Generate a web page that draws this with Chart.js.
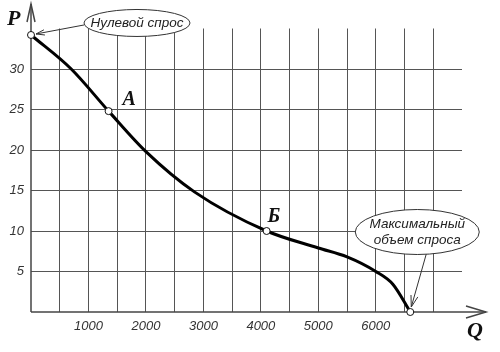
<!DOCTYPE html>
<html><head><meta charset="utf-8">
<script src="https://cdn.jsdelivr.net/npm/chart.js@4/dist/chart.umd.min.js"></script>
<style>html,body{margin:0;padding:0;background:#fff}canvas{display:block}</style>
</head><body>
<canvas id="c" width="500" height="352"></canvas>
<script>
// Demand curve (Q, P)
const quantity = [0, 700, 1350, 2000, 2850, 4100, 5000, 5500, 6000, 6300, 6600];
const price    = [34.2, 30, 24.8, 19.8, 14.8, 10, 7.9, 6.8, 5, 3.4, 0];
// Marked points: zero demand, A, Б, maximum demand
const markedQ = [0, 1350, 4100, 6600];
const markedP = [34.2, 24.8, 10, 0];
const pointNames = ['', 'А', 'Б', ''];
const xTickLabels = ['1000', '2000', '3000', '4000', '5000', '6000'];
const yTickLabels = ['5', '10', '15', '20', '25', '30'];
const zeroDemandText = ['Нулевой спрос'];
const maxDemandText = ['Максимальный', 'объем спроса'];
const axisNames = {x: 'Q', y: 'P'};

const curve = quantity.map((q, i) => ({x: q, y: price[i]}));
const marks = markedQ.map((q, i) => ({x: q, y: markedP[i]}));

function arrowLine(ctx, x1, y1, x2, y2, head) {
  ctx.beginPath(); ctx.moveTo(x1, y1); ctx.lineTo(x2, y2); ctx.stroke();
  const a = Math.atan2(y2 - y1, x2 - x1);
  ctx.beginPath();
  ctx.moveTo(x2 - head * Math.cos(a - 0.3), y2 - head * Math.sin(a - 0.3));
  ctx.lineTo(x2, y2);
  ctx.lineTo(x2 - head * Math.cos(a + 0.3), y2 - head * Math.sin(a + 0.3));
  ctx.stroke();
}
function callout(ctx, cx, cy, rx, ry, lines, lh) {
  ctx.beginPath(); ctx.ellipse(cx, cy, rx, ry, 0, 0, Math.PI * 2);
  ctx.fillStyle = '#fff'; ctx.fill();
  ctx.strokeStyle = '#333'; ctx.lineWidth = 1; ctx.stroke();
  ctx.fillStyle = '#222'; ctx.font = 'italic 13.5px "Liberation Sans", Arial, sans-serif';
  ctx.textAlign = 'center'; ctx.textBaseline = 'middle';
  const y0 = cy - (lines.length - 1) * lh / 2;
  lines.forEach((t, i) => ctx.fillText(t, cx, y0 + i * lh));
}

const decor = {
  id: 'decor',
  beforeDatasetsDraw(chart) {
    const {ctx, chartArea: a} = chart;
    ctx.save();
    ctx.strokeStyle = '#444'; ctx.lineWidth = 1.5;
    ctx.beginPath(); ctx.moveTo(a.left, a.bottom); ctx.lineTo(a.left, 4); ctx.stroke();
    ctx.beginPath(); ctx.moveTo(a.left - 4, 22); ctx.lineTo(a.left, 4); ctx.lineTo(a.left + 4, 22); ctx.stroke();
    ctx.beginPath(); ctx.moveTo(a.left, a.bottom); ctx.lineTo(486, a.bottom); ctx.stroke();
    ctx.beginPath(); ctx.moveTo(466, a.bottom - 6); ctx.lineTo(486, a.bottom); ctx.lineTo(466, a.bottom + 6); ctx.stroke();
    ctx.restore();
  },
  afterDatasetsDraw(chart) {
    const {ctx, scales: {x, y}} = chart;
    ctx.save();
    ctx.fillStyle = '#111';
    ctx.font = 'bold italic 22px "Liberation Serif", "Times New Roman", serif';
    ctx.textAlign = 'left'; ctx.textBaseline = 'alphabetic';
    ctx.fillText(axisNames.y, 7, 25);
    ctx.fillText(axisNames.x, 467, 337);
    ctx.font = 'bold italic 20px "Liberation Serif", "Times New Roman", serif';
    const px = markedQ.map(q => x.getPixelForValue(q));
    const py = markedP.map(p => y.getPixelForValue(p));
    ctx.fillText(pointNames[1], px[1] + 14, py[1] - 6);
    ctx.fillText(pointNames[2], px[2] + 1, py[2] - 9);
    // callout arrows
    ctx.strokeStyle = '#333'; ctx.lineWidth = 1;
    arrowLine(ctx, px[0] + 53, py[0] - 10, px[0] + 5, py[0] - 1, 9);
    arrowLine(ctx, px[3] + 16, py[3] - 58, px[3] + 1, py[3] - 5, 12);
    callout(ctx, px[0] + 106, py[0] - 12, 53, 13.5, zeroDemandText, 16);
    callout(ctx, px[3] + 7, py[3] - 80, 62, 22.5, maxDemandText, 16);
    ctx.restore();
  }
};

new Chart(document.getElementById('c'), {
  type: 'line',
  data: {
    datasets: [
      {data: marks, showLine: false, pointRadius: 3.5, pointBackgroundColor: '#fff',
       pointBorderColor: '#111', pointBorderWidth: 1, clip: false, order: 0},
      {data: curve, borderColor: '#000', borderWidth: 3, pointRadius: 0,
       cubicInterpolationMode: 'monotone', clip: false, order: 1}
    ]
  },
  options: {
    responsive: false, devicePixelRatio: 1, animation: false,
    layout: {padding: {left: 0, top: 28.5, right: 38, bottom: 0}},
    plugins: {legend: {display: false}, tooltip: {enabled: false}},
    scales: {
      x: {
        type: 'linear', min: 0, max: 7500,
        afterFit: s => { s.height = 40; },
        border: {display: false},
        grid: {drawTicks: false, lineWidth: 1,
          color: c => (c.tick && c.tick.value >= 500 && c.tick.value <= 7000) ? '#555' : 'rgba(0,0,0,0)'},
        ticks: {stepSize: 500, autoSkip: false, maxRotation: 0, padding: 7, color: '#333',
          font: {family: '"Liberation Sans", Arial, sans-serif', size: 13, style: 'italic'},
          callback: v => xTickLabels.includes(String(v)) ? String(v) : ''}
      },
      y: {
        type: 'linear', min: 0, max: 35,
        afterFit: s => { s.width = 31; },
        border: {display: false},
        grid: {drawTicks: false, lineWidth: 1,
          color: c => (c.tick && c.tick.value >= 5 && c.tick.value <= 30) ? '#555' : 'rgba(0,0,0,0)'},
        ticks: {stepSize: 5, autoSkip: false, padding: 7, color: '#333',
          font: {family: '"Liberation Sans", Arial, sans-serif', size: 13, style: 'italic'},
          callback: v => yTickLabels.includes(String(v)) ? String(v) : ''}
      }
    }
  },
  plugins: [decor]
});
</script>
</body></html>
